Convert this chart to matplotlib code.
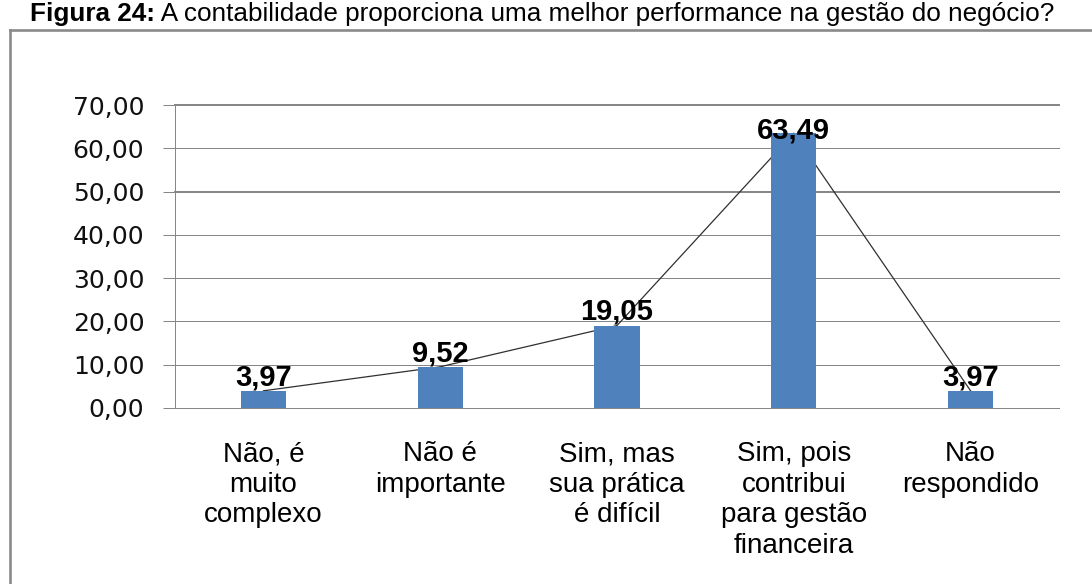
import matplotlib
matplotlib.use("Agg")
import matplotlib.pyplot as plt
from matplotlib.lines import Line2D

# ---- data ----
categories = ["Não, é\nmuito\ncomplexo", "Não é\nimportante", "Sim, mas\nsua prática\né difícil",
              "Sim, pois\ncontribui\npara gestão\nfinanceira", "Não\nrespondido"]
values = [3.97, 9.52, 19.05, 63.49, 3.97]
value_labels = ["3,97", "9,52", "19,05", "63,49", "3,97"]
yticks = [0, 10, 20, 30, 40, 50, 60, 70]
ytick_labels = ["0,00", "10,00", "20,00", "30,00", "40,00", "50,00", "60,00", "70,00"]
title_bold = "Figura 24:"
title_rest = " A contabilidade proporciona uma melhor performance na gestão do negócio?"

W, H = 1092, 584
DPI = 100
fig = plt.figure(figsize=(W / DPI, H / DPI), dpi=DPI)
fig.patch.set_facecolor("white")

def fx(px):
    return px / W

def fy(py):
    return 1 - py / H

# outer frame (partially visible)
frame_col = "#8a8a8a"
fig.add_artist(Line2D([fx(9.5), fx(9.5)], [fy(30), fy(H + 5)], color=frame_col, lw=1.9, transform=fig.transFigure))
fig.add_artist(Line2D([fx(9.5), fx(W + 5)], [fy(30), fy(30)], color=frame_col, lw=1.9, transform=fig.transFigure))

# title
renderer = fig.canvas.get_renderer()
t1 = fig.text(fx(30), fy(21), title_bold, fontsize=18.8, fontweight="bold",
              family="Liberation Sans", va="baseline", ha="left")
ext = t1.get_window_extent(renderer)
t2 = fig.text(ext.x1 / W, fy(21), title_rest, fontsize=18.8, family="Liberation Sans",
              va="baseline", ha="left")

# axes
ax = fig.add_axes([fx(175), fy(408), fx(1059) - fx(175), fy(105) - fy(408)])
ax.set_xlim(-0.5, len(categories) - 0.5)
ax.set_ylim(0, 70)
x = list(range(len(categories)))

grid_col = "#878787"
for v in yticks:
    lw = 2.0 if v in (50, 70) else 1.0
    ax.axhline(v, color=grid_col, lw=lw * 0.72, zorder=1, clip_on=False)

ax.plot(x, values, color="#303030", lw=0.9, zorder=2)
ax.bar(x, values, width=0.255, color="#4F81BD", zorder=3)

for xi, v, lab in zip(x, values, value_labels):
    off = 4 if v < 60 else -4
    ax.annotate(lab, (xi, v), xytext=(0, off), textcoords="offset points",
                ha="center", va="baseline", fontsize=21, fontweight="bold",
                family="Liberation Sans", color="black", zorder=4)

for s in ["top", "right", "bottom"]:
    ax.spines[s].set_visible(False)
ax.spines["left"].set_color(grid_col)
ax.spines["left"].set_linewidth(0.72)

ax.set_yticks(yticks)
ax.set_yticklabels(ytick_labels, fontsize=18, family="DejaVu Sans", color="#111111")
ax.tick_params(axis="y", length=8.6, width=0.72, color=grid_col, pad=13.5)

ax.set_xticks(x)
ax.set_xticklabels(categories, fontsize=20, family="Liberation Sans", color="black",
                   linespacing=1.22, va="top", ha="center")
ax.tick_params(axis="x", length=0, pad=24)

fig.savefig("out.png", dpi=DPI, facecolor="white")
